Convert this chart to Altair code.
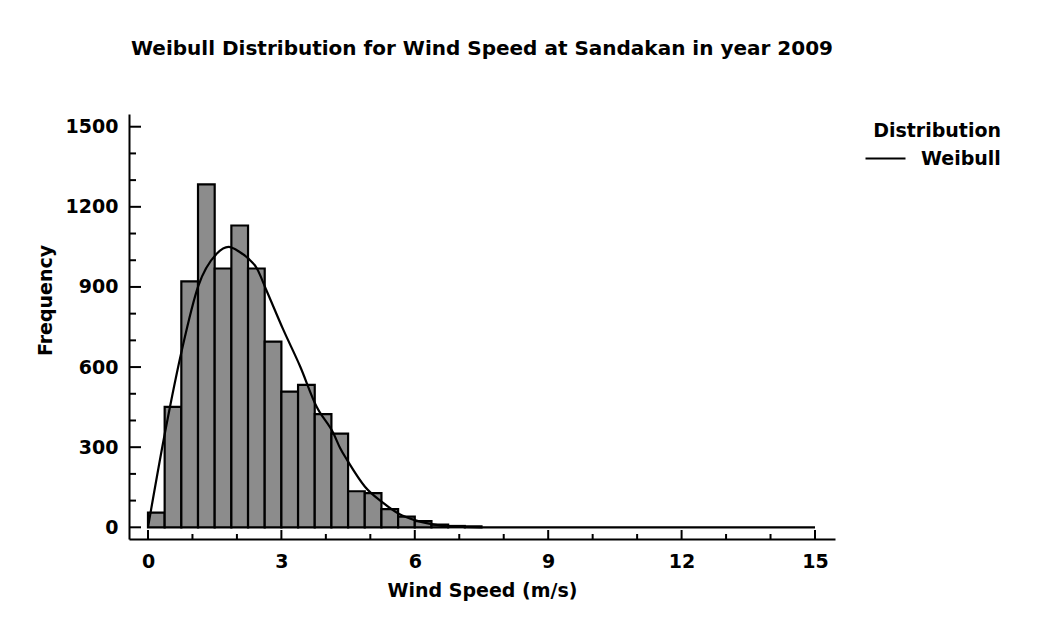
import altair as alt
import pandas as pd

# Histogram bins (m/s) and frequencies
bin_start = [0.0, 0.375, 0.75, 1.125, 1.5, 1.875, 2.25, 2.625, 3.0, 3.375,
             3.75, 4.125, 4.5, 4.875, 5.25, 5.625, 6.0, 6.375, 6.75, 7.125]
bin_end = [0.375, 0.75, 1.125, 1.5, 1.875, 2.25, 2.625, 3.0, 3.375, 3.75,
           4.125, 4.5, 4.875, 5.25, 5.625, 6.0, 6.375, 6.75, 7.125, 7.5]
freq = [55, 451, 921, 1284, 969, 1130, 969, 695, 508, 533,
        424, 351, 135, 128, 68, 40, 23, 10, 5, 4]

# Fitted Weibull curve
curve_x = [0.0, 0.4, 0.76, 1.13, 1.55, 1.81, 2.07, 2.26, 2.44, 2.67, 3.04,
           3.42, 3.79, 4.17, 4.32, 4.5, 4.88, 5.26, 5.63, 6.0, 6.38, 6.72,
           7.5, 15.0]
curve_y = [0, 370, 662, 903, 1025, 1050, 1030, 1006, 972, 885, 741,
           603, 452, 352, 297, 246, 152, 95, 52, 27, 12, 4, 0, 0]

x_major = [0, 3, 6, 9, 12, 15]
x_minor = [1, 2, 4, 5, 7, 8, 10, 11, 13, 14]
y_major = [0, 300, 600, 900, 1200, 1500]
y_minor = [100, 200, 400, 500, 700, 800, 1000, 1100, 1300, 1400]

W, H = 706, 425
FONT = "DejaVu Sans"
FW = "bold"

bars_df = pd.DataFrame({"x": bin_start, "x2": bin_end, "y": freq})
curve_df = pd.DataFrame({"x": curve_x, "y": curve_y, "dist": ["Weibull"] * len(curve_x)})

xs = alt.Scale(domain=[-0.427, 15.45], nice=False, zero=False)
ys = alt.Scale(domain=[-43.8, 1547.6], nice=False, zero=False)

x_axis = alt.Axis(values=x_major, format="d", title="Wind Speed (m/s)", grid=False,
                  ticks=False, tickSize=0, labelPadding=13, labelFontSize=19,
                  labelFont=FONT, labelFontWeight=FW, labelColor="black",
                  titleFont=FONT, titleFontSize=19, titleFontWeight=FW,
                  titleColor="black", titlePadding=10,
                  domainColor="black", domainWidth=2)
y_axis = alt.Axis(values=y_major, format="d", title="Frequency", grid=False,
                  ticks=False, tickSize=0, labelPadding=11, labelFontSize=19,
                  labelFont=FONT, labelFontWeight=FW, labelColor="black",
                  titleFont=FONT, titleFontSize=19, titleFontWeight=FW,
                  titleColor="black", titleX=-84, titleY=186,
                  titleAlign="center", titleBaseline="middle",
                  domainColor="black", domainWidth=2)

bars = alt.Chart(bars_df).mark_bar(fill="#8c8c8c", stroke="black", strokeWidth=2.2).encode(
    x=alt.X("x:Q", scale=xs, axis=x_axis),
    x2="x2:Q",
    y=alt.Y("y:Q", scale=ys, axis=y_axis),
    y2=alt.datum(0),
)

line = alt.Chart(curve_df).mark_line(strokeWidth=2.2, interpolate="monotone").encode(
    x=alt.X("x:Q", scale=xs),
    y=alt.Y("y:Q", scale=ys),
    color=alt.Color("dist:N", scale=alt.Scale(range=["black"]),
                    legend=alt.Legend(title="Distribution", orient="none", legendX=735,
                                      legendY=8, padding=0, titleFont=FONT, titleFontSize=19,
                                      titleFontWeight=FW, titleColor="black",
                                      titleAnchor="end", labelFont=FONT, labelFontSize=19,
                                      labelFontWeight=FW,
                                      labelColor="black", symbolType="stroke",
                                      symbolStrokeWidth=2.2, symbolSize=1600, labelOffset=14,
                                      titlePadding=-4)),
)

ymaj = alt.Chart(pd.DataFrame({"v": y_major})).mark_rule(color="black", strokeWidth=2).encode(
    y=alt.Y("v:Q", scale=ys), x=alt.value(0), x2=alt.value(12))
ymin = alt.Chart(pd.DataFrame({"v": y_minor})).mark_rule(color="black", strokeWidth=2).encode(
    y=alt.Y("v:Q", scale=ys), x=alt.value(0), x2=alt.value(7))
xmaj = alt.Chart(pd.DataFrame({"v": x_major})).mark_rule(color="black", strokeWidth=2).encode(
    x=alt.X("v:Q", scale=xs), y=alt.value(H), y2=alt.value(H - 9))
xmin = alt.Chart(pd.DataFrame({"v": x_minor})).mark_rule(color="black", strokeWidth=2).encode(
    x=alt.X("v:Q", scale=xs), y=alt.value(H), y2=alt.value(H - 5))

chart = alt.layer(bars, line, ymaj, ymin, xmaj, xmin).properties(
    width=W, height=H,
    background="white",
    title=alt.TitleParams("Weibull Distribution for Wind Speed at Sandakan in year 2009",
                          font=FONT, fontSize=20, fontWeight=FW, color="black",
                          anchor="middle", baseline="alphabetic", offset=39),
    autosize=alt.AutoSizeParams(type="none"),
    padding={"left": 121, "top": 106, "right": 200, "bottom": 70},
).configure_view(stroke="transparent", strokeWidth=0)

chart.save("out.html", embed_options={"renderer": "svg", "actions": False})
